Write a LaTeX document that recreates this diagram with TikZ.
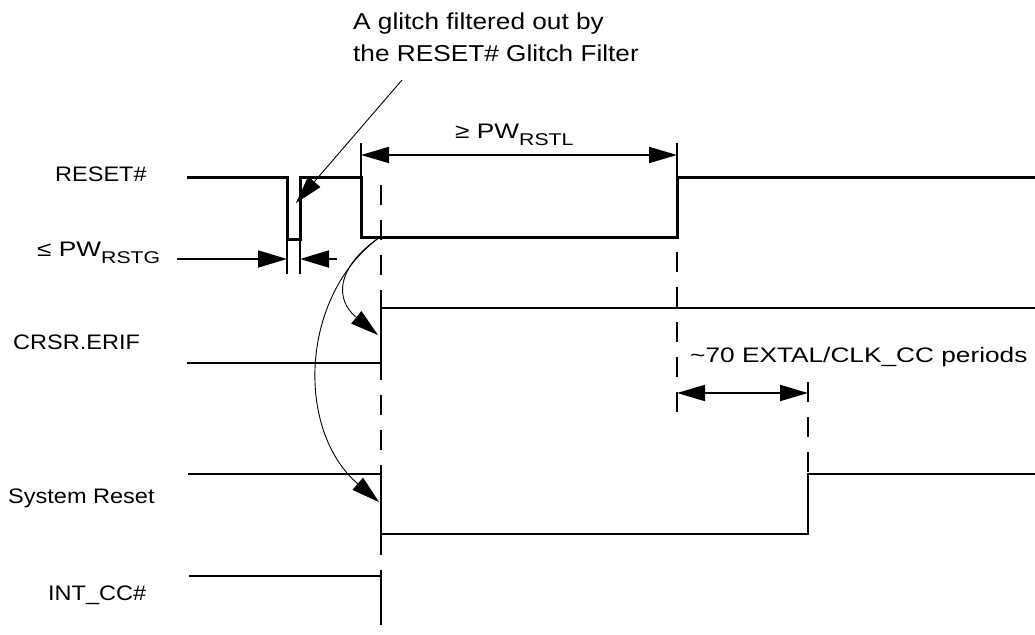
\documentclass[tikz,border=0pt]{standalone}
\usepackage{fontspec}
\setmainfont[FakeStretch=1.12]{Liberation Sans}
\newfontfamily\notefont[FakeStretch=1.25]{Liberation Sans}
\newfontfamily\calloutfont[FakeStretch=1.14]{Liberation Sans}
\usetikzlibrary{arrows.meta,calc}
\newcommand{\subtxt}[1]{\raisebox{-7pt}{\fontsize{17}{20}\selectfont #1}}

\begin{document}
\begin{tikzpicture}[x=1pt,y=-1pt,
  sig/.style={line width=2.4pt,line join=miter},
  rst/.style={sig,line width=3pt},
  ext/.style={line width=2pt},
  guide/.style={line width=2pt,dash pattern=on 20pt off 15pt},
  dimarr/.style={{Triangle[length=28pt,width=16pt]}-{Triangle[length=28pt,width=16pt]},line width=1.8pt},
  dimtip/.style={-{Triangle[length=29pt,width=17pt]},line width=1.8pt},
  cause/.style={-{Triangle[length=28pt,width=16pt]},line width=0.9pt},
  siglbl/.style={anchor=base west,inner sep=0pt,font=\fontsize{21}{25}\selectfont},
  note/.style={anchor=base west,inner sep=0pt,font=\notefont\fontsize{21}{25}\selectfont},
  callout/.style={anchor=base west,inner sep=0pt,font=\calloutfont\fontsize{23}{27}\selectfont}]
  \useasboundingbox (0,0) rectangle (1035,634);
  \node[siglbl] (lRst) at (55,181) {RESET\#};
  \node[siglbl] (lErif) at (13,349) {CRSR.ERIF};
  \node[siglbl] (lSys) at (8,503) {System Reset};
  \node[siglbl] (lInt) at (48,600) {INT\_CC\#};
  % waveforms
  \draw[rst] (187,177) -- (287,177) -- (287,239) -- (300,239) -- (300,177) -- (361,177)
    -- (361,237) -- (677,237) -- (677,177) -- (1035,177);
  \draw[sig] (187,363) -- (381,363) -- (381,308) -- (1035,308);
  \draw[sig] (188,474) -- (381,474) -- (381,534) -- (808,534) -- (808,474) -- (1035,474);
  \draw[sig] (189,576) -- (381,576) -- (381,622);
  \draw[guide] (381,185) -- (381,634);
  \draw[guide] (677,252) -- (677,415);
  \draw[guide] (808,382) -- (808,534);
  % glitch width
  \coordinate (gL) at (287,259);
  \coordinate (gR) at (300,259);
  \coordinate (gLout) at (177,259);
  \coordinate (gRout) at (337,259);
  \foreach \x in {287,300}
    \draw[ext] (\x,239) -- (\x,274);
  \draw[dimtip] (gLout) -- (gL);
  \draw[dimtip] (gRout) -- (gR);
  \node[note] (lGlitchW) at (37,256) {≤ PW\subtxt{RSTG}};
  % low pulse width
  \draw[ext] (361,143) -- (361,177);
  \draw[ext] (677,143) -- (677,177);
  \coordinate (pwL) at (361,155);
  \coordinate (pwR) at (677,155);
  \draw[dimarr] (pwL) -- (pwR);
  \node[note] (lPulseW) at (455,138) {≥ PW\subtxt{RSTL}};
  % delay
  \coordinate (dlL) at (677,393);
  \coordinate (dlR) at (808,393);
  \draw[dimarr] (dlL) -- (dlR);
  \node[note] (lDelay) at (690,362) {\textasciitilde70 EXTAL/CLK\_CC periods};
  % glitch note
  \node[callout] (glitchNoteA) at (353,30) {A glitch filtered out by};
  \node[callout] (glitchNoteB) at (353,61) {the RESET\# Glitch Filter};
  \coordinate (leadTop) at (402,80);
  \coordinate (glitchTip) at (296,203);
  \draw[cause] (leadTop) -- (glitchTip);
  % cause arrows
  \coordinate (fall) at (380,237);
  \coordinate (erifTip) at (378,335);
  \coordinate (sysTip) at (379,502);
  \draw[cause] (fall) .. controls (335,268) and (335,300) .. (erifTip);
  \draw[cause] (fall) .. controls (300,295) and (295,430) .. (sysTip);
\end{tikzpicture}
\end{document}
